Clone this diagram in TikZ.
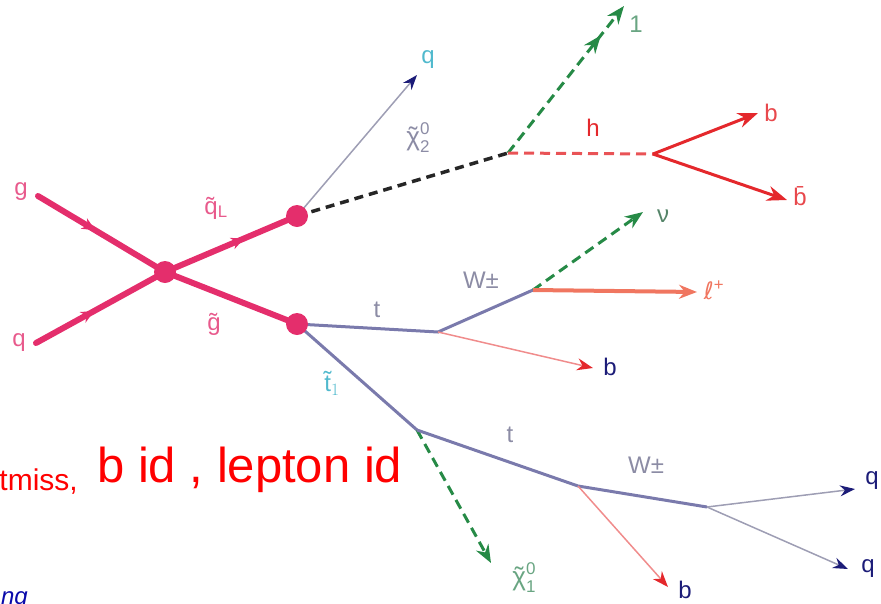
\documentclass[tikz,border=0pt]{standalone}
\usepackage{fontspec}
\setmainfont{Liberation Sans}
\newfontfamily\dejavu{DejaVu Sans}
\usetikzlibrary{arrows.meta,decorations.markings}
\definecolor{sqpink}{RGB}{228,46,108}
\definecolor{sqlabel}{RGB}{232,90,140}
\definecolor{stline}{RGB}{122,122,172}
\definecolor{qline}{RGB}{158,158,180}
\definecolor{navyq}{RGB}{28,28,120}
\definecolor{tealq}{RGB}{80,185,205}
\definecolor{lspgreen}{RGB}{38,138,70}
\definecolor{lsplabel}{RGB}{105,165,130}
\definecolor{hred}{RGB}{228,40,44}
\definecolor{lepsalmon}{RGB}{240,118,96}
\definecolor{bpink}{RGB}{240,140,140}
\definecolor{grlabel}{RGB}{140,140,165}
\definecolor{notesblue}{RGB}{10,10,170}
% neutralino label: chi with tilde, 0 above, index below
\newcommand{\neutr}[1]{\ooalign{χ\cr\hidewidth˜\hidewidth\cr}%
  \makebox[0pt][l]{\raisebox{11pt}{\fontsize{17}{17}\selectfont 0}}%
  \raisebox{-7pt}{\fontsize{17}{17}\selectfont #1}}
\tikzset{
  pinkline/.style={line width=6pt,draw=sqpink,line cap=round},
  pinkmark/.style={postaction={decorate,decoration={markings,
    mark=at position #1 with {\arrow{Stealth[length=13pt,width=12pt,color=sqpink]}}}}},
  blob/.style={circle,fill=sqpink,minimum size=22pt,inner sep=0pt},
  stopline/.style={line width=3pt,draw=stline},
  qarrow/.style={-{Stealth[length=15pt,width=11pt,color=navyq]},line width=1.5pt,draw=qline},
  darkdash/.style={line width=3.5pt,dash pattern=on 9pt off 6pt,draw=black!85},
  greendash/.style={-{Stealth[length=18pt,width=14pt]},line width=3pt,
    dash pattern=on 10pt off 6pt,draw=lspgreen},
  higgsdash/.style={line width=3pt,dash pattern=on 10pt off 6pt,draw=hred!80},
  barrow/.style={-{Stealth[length=20pt,width=15pt]},line width=3pt,draw=hred},
  thinb/.style={-{Stealth[length=16pt,width=12pt,color=hred]},line width=1.5pt,draw=bpink},
  leparrow/.style={-{Stealth[length=18pt,width=14pt]},line width=4pt,draw=lepsalmon},
  lbl/.style={font=\fontsize{24}{28}\selectfont,inner sep=0pt},
  redtxt/.style={text=red,inner sep=0pt},
}

\begin{document}
\begin{tikzpicture}[x=1pt,y=-1pt]
  \useasboundingbox (0,0) rectangle (881,603);
  \clip (0,0) rectangle (881,603);
  % vertices
  \coordinate (gin)   at (38,196);
  \coordinate (qin)   at (36,343);
  \coordinate (vtx)   at (165,272);
  \coordinate (sqL)   at (297,216);
  \coordinate (glu)   at (297,324);
  \coordinate (chi2)  at (508,153);
  \coordinate (higgs) at (653,154);
  \coordinate (top1)  at (438,332);
  \coordinate (wup)   at (533,290);
  \coordinate (stop)  at (417,430);
  \coordinate (top2)  at (578,486);
  \coordinate (wlow)  at (707,507);
  % free ends
  \coordinate (qtip)     at (417,75);
  \coordinate (lsptip)   at (624,6);
  \coordinate (btip)     at (758,113);
  \coordinate (bbartip)  at (787,200);
  \coordinate (nutip)    at (643,212);
  \coordinate (leptip)   at (697,292);
  \coordinate (bttip)    at (593,368);
  \coordinate (lsp1tip)  at (491,563);
  \coordinate (blowtip)  at (668,587);
  \coordinate (qrtip)    at (855,489);
  \coordinate (qrlowtip) at (848,569);

  % incoming and squark/gluino lines
  \draw[pinkline,pinkmark=0.45] (gin) -- (vtx);
  \draw[pinkline,pinkmark=0.45] (qin) -- (vtx);
  \draw[pinkline,pinkmark=0.6] (vtx) -- (sqL);
  \draw[pinkline] (vtx) -- (glu);

  % squark decay
  \draw[qarrow] (sqL) -- (qtip);
  \draw[darkdash] (sqL) -- (chi2);
  \draw[greendash,postaction={decorate,decoration={markings,
    mark=at position 0.8 with {\arrow{Stealth[length=18pt,width=14pt,color=lspgreen]}}}}]
    (chi2) -- (lsptip);
  \draw[higgsdash] (chi2) -- (higgs);
  \draw[barrow] (higgs) -- (btip);
  \draw[barrow] (higgs) -- (bbartip);

  % gluino -> t
  \draw[stopline] (glu) -- (top1) -- (wup);
  \draw[greendash] (wup) -- (nutip);
  \draw[leparrow] (wup) -- (leptip);
  \draw[thinb] (top1) -- (bttip);

  % gluino -> stop
  \draw[stopline] (glu) -- (stop);
  \draw[greendash] (stop) -- (lsp1tip);
  \draw[stopline] (stop) -- (top2) -- (wlow);
  \draw[thinb] (top2) -- (blowtip);
  \draw[qarrow] (wlow) -- (qrtip);
  \draw[qarrow] (wlow) -- (qrlowtip);

  % blobs
  \node[blob] (vtxblob) at (vtx) {};
  \node[blob] (sqLblob) at (sqL) {};
  \node[blob] (glublob) at (glu) {};

  % labels
  \node[lbl,text=sqlabel] (glab)   at (21,192)  {g};
  \node[lbl,text=sqlabel] (qlab)   at (19,343)  {q};
  \node[lbl,text=sqlabel] (sqLlab) at (216,208) {\~q\textsubscript{L}};
  \node[lbl,text=sqlabel] (glulab) at (214,324) {\~g};
  \node[lbl,text=tealq]   (qtoplab) at (428,60) {q};
  \node[lbl,text=grlabel,font=\fontsize{26}{28}\selectfont] (chi2lab) at (418,138) {\neutr{2}};
  \node[lbl,text=lsplabel] (onelab) at (636,24) {1};
  \node[lbl,text=hred]    (hlab)   at (593,128) {h};
  \node[lbl,text=hred!85] (blab)   at (771,113) {b};
  \node[lbl,text=hred!85] (bbarlab) at (800,196) {\=b};
  \node[lbl,text=grlabel] (tlab)   at (377,310) {t};
  \node[lbl,text=grlabel] (wuplab) at (481,280) {W±};
  \node[lbl,text=lsplabel!80!black] (nulab) at (663,216) {ν};
  \node[lbl,text=lepsalmon] (leplab) at (714,290) {{\dejavu\itshape ℓ}\textsuperscript{+}};
  \node[lbl,text=navyq]   (btlab)  at (610,367) {b};
  \node[lbl,text=tealq]   (stoplab) at (332,383) {\~t$_1$};
  \node[lbl,text=grlabel] (t2lab)  at (510,435) {t};
  \node[lbl,text=grlabel] (wlowlab) at (646,465) {W±};
  \node[lbl,text=lsplabel,font=\fontsize{26}{28}\selectfont] (chi1lab) at (524,578) {\neutr{1}};
  \node[lbl,text=navyq]   (blowlab) at (685,590) {b};
  \node[lbl,text=navyq]   (qrlab)  at (872,481) {q};
  \node[lbl,text=navyq]   (qrlowlab) at (868,569) {q};

  % cut text on the left
  \node[redtxt,font=\fontsize{30}{34}\selectfont,anchor=base east] (etmiss) at (78,490) {tmiss,};
  \node[redtxt,font=\fontsize{49}{56}\selectfont,anchor=base west] (bidtxt) at (97,482) {b id , lepton id};
  \node[inner sep=0pt,text=notesblue,font=\fontsize{24}{28}\selectfont\itshape,anchor=base east] (ngtxt) at (28,604) {ng};
\end{tikzpicture}
\end{document}
